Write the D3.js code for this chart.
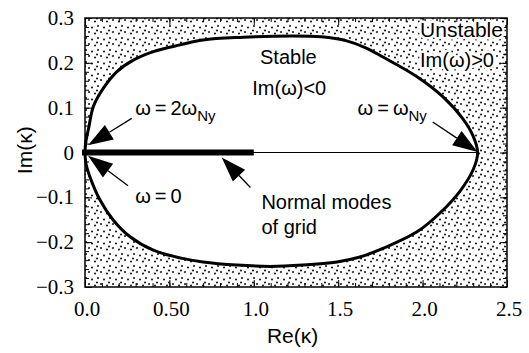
<!DOCTYPE html>
<html>
<head>
<meta charset="utf-8">
<script src="https://cdn.jsdelivr.net/npm/d3@7"></script>
<style>
  body { margin: 0; background: #fff; }
  text { font-family: "Liberation Sans", Arial, sans-serif; }
</style>
</head>
<body>
<div id="chart"></div>
<script>
// Upper branch of the stability boundary (Re, Im)
var upperRe = [0.0, 0.006, 0.022, 0.050, 0.108, 0.188, 0.286, 0.405, 0.563, 0.699, 0.936, 1.232, 1.40, 1.55, 1.66, 1.765, 1.967, 2.121, 2.239, 2.30, 2.326];
var upperIm = [0.0, 0.026, 0.055, 0.103, 0.143, 0.180, 0.206, 0.225, 0.240, 0.251, 0.257, 0.260, 0.258, 0.249, 0.234, 0.213, 0.169, 0.124, 0.075, 0.036, 0.0];
// Lower branch, going back from right to left
var lowerRe = [2.30, 2.222, 2.103, 1.967, 1.765, 1.629, 1.493, 1.291, 1.096, 0.900, 0.699, 0.563, 0.405, 0.267, 0.168, 0.089, 0.030, 0.006];
var lowerIm = [-0.038, -0.086, -0.135, -0.177, -0.214, -0.233, -0.244, -0.251, -0.254, -0.251, -0.244, -0.235, -0.218, -0.188, -0.151, -0.106, -0.055, -0.025];

// Normal modes of grid: thick segment on the real axis
var gridModes = [0.0, 1.0];
var boundaryEnd = 2.326;

var xTicks = [0, 0.5, 1.0, 1.5, 2.0, 2.5];
var xTickLabels = ["0.0", "0.50", "1.0", "1.5", "2.0", "2.5"];
var yTicks = [-0.3, -0.2, -0.1, 0, 0.1, 0.2, 0.3];
var yTickLabels = ["\u22120.3", "\u22120.2", "\u22120.1", "0", "0.1", "0.2", "0.3"];

// Arrows: tip and tail in data units
var arrows = [
    {tip: [0.018, 0.016], tail: [0.277, 0.076]},
    {tip: [0.018, -0.007], tail: [0.255, -0.074]},
    {tip: [0.81, -0.011], tail: [0.98, -0.078]},
    {tip: [2.326, 0.001], tail: [2.06, 0.068]}
];

const width = 529;
const height = 353;
const margin = {top: 18, right: 22, bottom: 66, left: 85};

const svg = d3.select('#chart').append('svg')
    .attr('width', width)
    .attr('height', height);

var x = d3.scaleLinear().domain([0, 2.5]).range([margin.left, width - margin.right]);
var y = d3.scaleLinear().domain([-0.3, 0.3]).range([height - margin.bottom, margin.top]);

// Stipple pattern for the unstable region
var defs = svg.append('defs');
var pat = defs.append('pattern')
    .attr('id', 'stipple')
    .attr('patternUnits', 'userSpaceOnUse')
    .attr('width', 12)
    .attr('height', 12);
pat.append('rect').attr('width', 12).attr('height', 12).attr('fill', 'white');
[[2, 2], [8, 3.5], [5, 8], [11, 9.5], [1, 6.5]].forEach(function(p) {
    pat.append('circle').attr('cx', p[0]).attr('cy', p[1]).attr('r', 0.95).attr('fill', 'black');
});

svg.append('rect')
    .attr('x', x(0))
    .attr('y', y(0.3))
    .attr('width', x(2.5) - x(0))
    .attr('height', y(-0.3) - y(0.3))
    .attr('fill', 'url(#stipple)');

// Boundary curve (closed)
var pts = upperRe.map(function(d, i) { return [d, upperIm[i]]; })
    .concat(lowerRe.map(function(d, i) { return [d, lowerIm[i]]; }));

var line = d3.line()
    .x(function(d) { return x(d[0]); })
    .y(function(d) { return y(d[1]); })
    .curve(d3.curveCatmullRomClosed.alpha(0.5));

svg.append('path')
    .attr('d', line(pts))
    .attr('fill', 'white')
    .attr('stroke', 'black')
    .attr('stroke-width', 3);

// Real axis line and the normal modes bar
svg.append('line')
    .attr('x1', x(0)).attr('x2', x(boundaryEnd))
    .attr('y1', y(0)).attr('y2', y(0))
    .attr('stroke', 'black')
    .attr('stroke-width', 1.2);

svg.append('line')
    .attr('x1', x(gridModes[0]) - 3).attr('x2', x(gridModes[1]))
    .attr('y1', y(0)).attr('y2', y(0))
    .attr('stroke', 'black')
    .attr('stroke-width', 6);

// Inward ticks on all four sides
function minor(a, b, step) {
    return d3.range(Math.round((b - a) / step) + 1).map(function(i) { return a + i * step; });
}
var xMinor = minor(0, 2.5, 0.1);
var yMinor = minor(-0.3, 0.3, 0.02);

function addAxis(axis, tx, ty) {
    var g = svg.append('g').attr('transform', 'translate(' + tx + ',' + ty + ')').call(axis);
    g.select('.domain').remove();
    g.selectAll('text').remove();
    g.selectAll('line').attr('stroke', 'black').attr('stroke-width', 1);
    return g;
}
addAxis(d3.axisBottom(x).tickValues(xMinor).tickSize(-4), 0, y(-0.3));
addAxis(d3.axisBottom(x).tickValues(xTicks).tickSize(-7), 0, y(-0.3));
addAxis(d3.axisTop(x).tickValues(xMinor).tickSize(-4), 0, y(0.3));
addAxis(d3.axisTop(x).tickValues(xTicks).tickSize(-7), 0, y(0.3));
addAxis(d3.axisLeft(y).tickValues(yMinor).tickSize(-4), x(0), 0);
addAxis(d3.axisLeft(y).tickValues(yTicks).tickSize(-7), x(0), 0);
addAxis(d3.axisRight(y).tickValues(yMinor).tickSize(-4), x(2.5), 0);
addAxis(d3.axisRight(y).tickValues(yTicks).tickSize(-7), x(2.5), 0);

// Frame
svg.append('rect')
    .attr('x', x(0))
    .attr('y', y(0.3))
    .attr('width', x(2.5) - x(0))
    .attr('height', y(-0.3) - y(0.3))
    .attr('fill', 'none')
    .attr('stroke', 'black')
    .attr('stroke-width', 1.5);

// Tick labels
svg.selectAll('.xlab')
    .data(xTicks)
    .enter()
    .append('text')
    .attr('x', function(d) { return x(d) + 2; })
    .attr('y', y(-0.3) + 29)
    .attr('text-anchor', 'middle')
    .style('font-family', '"Liberation Serif", "Times New Roman", serif')
    .style('font-size', '21px')
    .text(function(d, i) { return xTickLabels[i]; });

svg.selectAll('.ylab')
    .data(yTicks)
    .enter()
    .append('text')
    .attr('x', x(0) - 11)
    .attr('y', function(d) { return y(d) + 7; })
    .attr('text-anchor', 'end')
    .style('font-family', '"Liberation Serif", "Times New Roman", serif')
    .style('font-size', '21px')
    .text(function(d, i) { return yTickLabels[i]; });

// Axis titles
svg.append('text')
    .attr('x', x(1.23))
    .attr('y', height - 10)
    .attr('text-anchor', 'middle')
    .style('font-size', '21px')
    .text('Re(\u03ba)');

svg.append('text')
    .attr('transform', 'translate(32,' + y(0.005) + ') rotate(-90)')
    .attr('text-anchor', 'middle')
    .style('font-size', '21px')
    .text('Im(\u03ba)');

// Arrows
arrows.forEach(function(a) {
    var tx = x(a.tip[0]), ty = y(a.tip[1]);
    var sx = x(a.tail[0]), sy = y(a.tail[1]);
    var ang = Math.atan2(sy - ty, sx - tx);
    var len = 25, hw = 8.5;
    var bx = tx + len * Math.cos(ang), by = ty + len * Math.sin(ang);
    svg.append('line')
        .attr('x1', sx).attr('y1', sy)
        .attr('x2', bx).attr('y2', by)
        .attr('stroke', 'black')
        .attr('stroke-width', 1.3);
    var px = -Math.sin(ang) * hw, py = Math.cos(ang) * hw;
    svg.append('path')
        .attr('d', 'M' + tx + ',' + ty + 'L' + (bx + px) + ',' + (by + py) + 'L' + (bx - px) + ',' + (by - py) + 'Z')
        .attr('fill', 'black');
});

// Region and point labels
function label(txt, re, im, anchor, halo) {
    var t = svg.append('text')
        .attr('x', x(re))
        .attr('y', y(im))
        .attr('text-anchor', anchor)
        .style('font-size', '20px')
        .text(txt);
    if (halo) {
        t.attr('stroke', 'white').attr('stroke-width', 5)
            .attr('stroke-linejoin', 'round')
            .style('paint-order', 'stroke');
    }
    return t;
}

label('Stable', 1.205, 0.197, 'middle');
label('Im(\u03c9)<0', 1.21, 0.128, 'middle');
label('Unstable', 2.476, 0.258, 'end', true).style('font-size', '21px');
label('Im(\u03c9)>0', 2.423, 0.191, 'end', true);
label('\u03c9\u2009=\u20090', 0.297, -0.113, 'start');
label('Normal modes', 1.045, -0.125, 'start');
label('of grid', 1.045, -0.181, 'start');

var t1 = label('\u03c9\u2009=\u20092\u03c9', 0.297, 0.084, 'start');
t1.append('tspan').attr('dy', 6).style('font-size', '15px').text('Ny');
var t2 = label('\u03c9\u2009=\u2009\u03c9', 1.615, 0.084, 'start');
t2.append('tspan').attr('dy', 6).style('font-size', '15px').text('Ny');
</script>
</body>
</html>
